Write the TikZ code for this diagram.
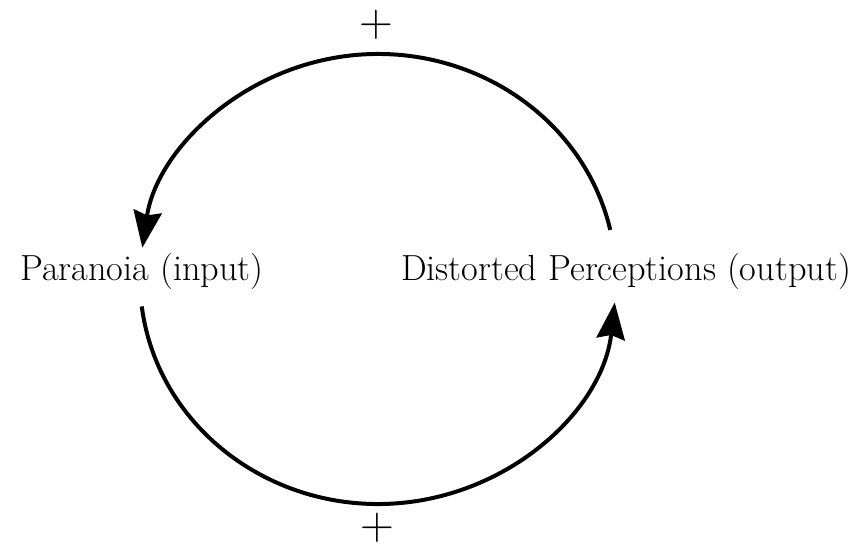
\documentclass[tikz,border=0pt]{standalone}
\usepackage{fontspec}
\usepackage{tikz}
\usetikzlibrary{arrows.meta,calc}

\begin{document}
\begin{tikzpicture}[
 x=0.03cm, y=-0.03cm,
 label/.style={anchor=base, inner sep=0pt, font=\fontsize{31}{36}\selectfont},
 sign/.style={inner sep=0pt, font=\fontsize{40}{46}\selectfont},
 loop/.style={-{Stealth[length=1.1cm, width=0.85cm, inset=0.12cm]}, line width=3.4pt},
]
\useasboundingbox (0,0) rectangle (858,548);
\coordinate (c) at (378,279);
\node[label] (paranoia) at (142,280) {Paranoia (input)};
\node[label] (distorted) at (626,280) {Distorted Perceptions (output)};
\node[sign] (topplus) at (376,25) {+};
\node[sign] (botplus) at (377,528) {+};

\coordinate (topstart) at ($(c)+(12.6:7.14cm and 6.75cm)$);
\coordinate (botstart) at ($(c)+(187:7.14cm and 6.75cm)$);
\draw[loop] (topstart) arc[start angle=12.6, end angle=172, x radius=7.14cm, y radius=6.75cm];
\draw[loop] (botstart) arc[start angle=187, end angle=354, x radius=7.14cm, y radius=6.75cm];
\end{tikzpicture}
\end{document}
